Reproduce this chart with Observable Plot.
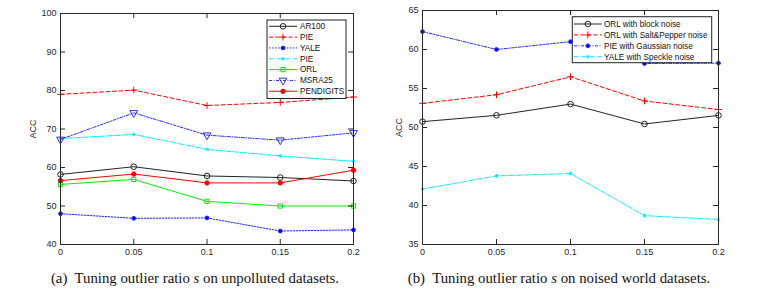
<!DOCTYPE html>
<html><head><meta charset="utf-8">
<script src="https://cdn.jsdelivr.net/npm/d3@7"></script>
<script src="https://cdn.jsdelivr.net/npm/@observablehq/plot@0.6"></script>
<style>
body{margin:0;background:#fff;}
#wrap{position:relative;width:765px;height:300px;overflow:hidden;background:#fff;}
.panel{position:absolute;top:0;}
.cap{position:absolute;top:271px;font-family:"Liberation Serif","Times New Roman",serif;font-size:14.8px;line-height:15px;white-space:nowrap;transform:translateX(-50%);color:#111;}
</style></head>
<body>
<div id="wrap">
  <div class="panel" id="pa" style="left:0px"></div>
  <div class="panel" id="pb" style="left:380px"></div>
  <div class="cap" style="left:195px">(a)&nbsp; Tuning outlier ratio <i>s</i> on unpolluted datasets.</div>
  <div class="cap" style="left:559px">(b)&nbsp; Tuning outlier ratio <i>s</i> on noised world datasets.</div>
</div>
<script>
// ---- data ----
const xs = [0, 0.05, 0.1, 0.15, 0.2];
const xTickLabels = ["0", "0.05", "0.1", "0.15", "0.2"];
const yTicksA = [40, 50, 60, 70, 80, 90, 100];
const yTicksB = [35, 40, 45, 50, 55, 60, 65];

const namesA = ["AR100", "PIE", "YALE", "PIE", "ORL", "MSRA25", "PENDIGITS"];
const ar100     = [58.2, 60.2, 57.8, 57.4, 56.5];
const pieA      = [79.0, 80.1, 76.1, 76.9, 78.3];
const yaleA     = [48.0, 46.8, 46.9, 43.5, 43.8];
const pie2A     = [67.5, 68.6, 64.7, 63.0, 61.6];
const orlA      = [55.6, 56.9, 51.2, 50.0, 50.0];
const msra25    = [67.3, 74.2, 68.4, 67.1, 69.0];
const pendigits = [56.6, 58.3, 56.0, 56.0, 59.3];

const namesB = ["ORL with block noise", "ORL with Salt&Pepper noise", "PIE with Gaussian noise", "YALE with Speckle noise"];
const orlBlock    = [50.75, 51.56, 53.0, 50.45, 51.55];
const orlSP       = [53.1, 54.2, 56.5, 53.4, 52.3];
const pieGauss    = [62.3, 60.0, 61.0, 58.2, 58.25];
const yaleSpeckle = [42.1, 43.8, 44.1, 38.7, 38.2];

// ---- styles ----
const stylesA = [
  {stroke:"#222", dash:null, symbol:"circle", r:2.8, fill:"none"},
  {stroke:"#ff0000", dash:"4,2.5", symbol:"plus", r:2.3, fill:"none"},
  {stroke:"#2020ff", dash:"1.5,1.5", symbol:"circle", r:1.9, fill:"#0000ff"},
  {stroke:"#00e8ff", dash:"4,1.5,1,1.5", symbol:"asterisk", r:1.8, fill:"none"},
  {stroke:"#00ee00", dash:null, symbol:"square", r:2.4, fill:"none"},
  {stroke:"#2a2aff", dash:"3,1.5,1,1.5", symbol:"triangle", r:2.9, fill:"none", rotate:180},
  {stroke:"#ff0000", dash:null, symbol:"circle", r:2.2, fill:"#ff0000"}
];
const stylesB = [
  {stroke:"#222", dash:null, symbol:"circle", r:2.8, fill:"none"},
  {stroke:"#ff0000", dash:"4,2.5", symbol:"plus", r:2.3, fill:"none"},
  {stroke:"#2a2aff", dash:"3,1.5,1,1.5", symbol:"circle", r:1.9, fill:"#0000ff"},
  {stroke:"#00e8ff", dash:"4,1.5,1,1.5", symbol:"asterisk", r:1.8, fill:"none"}
];

const AXC = "#262626";

function makePanel({series, names, styles, yDomain, yTicks, width, height, mL, mR, mT, mB, labelOffset}) {
  const innerH = height - mT - mB;
  const innerW = width - mL - mR;
  const marks = [];
  series.forEach((vals, k) => {
    const s = styles[k];
    const data = xs.map((x, i) => ({x, y: vals[i], name: names[k]}));
    marks.push(Plot.line(data, {x:"x", y:"y", stroke:s.stroke, strokeWidth:1, strokeDasharray:s.dash || undefined}));
    marks.push(Plot.dot(data, {x:"x", y:"y", symbol:s.symbol, r:s.r, stroke:s.stroke, fill:s.fill, strokeWidth:1, rotate:s.rotate || 0}));
  });
  const fmt = d => xTickLabels[xs.findIndex(v => Math.abs(v - d) < 1e-9)];
  return Plot.plot({
    width, height, marginLeft:mL, marginRight:mR, marginTop:mT, marginBottom:mB,
    style:{fontSize:"9px", fontFamily:"'Liberation Sans', Arial, sans-serif", color:AXC, background:"transparent"},
    x:{domain:[0, 0.2]},
    y:{domain:yDomain},
    marks:[
      ...marks,
      Plot.frame({stroke:AXC, strokeWidth:1}),
      Plot.tickX(xs, {x:d=>d, insetTop:innerH-5, stroke:AXC}),
      Plot.tickX(xs, {x:d=>d, insetBottom:innerH-5, stroke:AXC}),
      Plot.tickY(yTicks, {y:d=>d, insetRight:innerW-5, stroke:AXC}),
      Plot.tickY(yTicks, {y:d=>d, insetLeft:innerW-5, stroke:AXC}),
      Plot.axisX({ticks:xs, tickSize:0, tickPadding:4, tickFormat:fmt, label:null}),
      Plot.axisY({ticks:yTicks, tickSize:0, tickPadding:4, label:"ACC", labelAnchor:"center", labelArrow:"none", labelOffset})
    ]
  });
}

const symMap = {circle:d3.symbolCircle, plus:d3.symbolPlus, asterisk:d3.symbolAsterisk, square:d3.symbolSquare, triangle:d3.symbolTriangle};

function addLegend(svg, names, styles, L) {
  const g = d3.select(svg).append("g").attr("text-anchor", "start");
  g.append("rect").attr("x", L.x).attr("y", L.y).attr("width", L.w).attr("height", L.h)
    .attr("fill", "#fff").attr("stroke", "#222").attr("stroke-width", 1);
  names.forEach((n, k) => {
    const s = styles[k];
    const cy = L.row0 + k * L.dy;
    g.append("line").attr("x1", L.lx1).attr("x2", L.lx2).attr("y1", cy).attr("y2", cy)
      .attr("stroke", s.stroke).attr("stroke-width", 1).attr("stroke-dasharray", s.dash || null);
    g.append("path").attr("d", d3.symbol(symMap[s.symbol], Math.PI * s.r * s.r)())
      .attr("transform", `translate(${(L.lx1 + L.lx2) / 2},${cy}) rotate(${s.rotate || 0})`)
      .attr("fill", s.fill).attr("stroke", s.stroke).attr("stroke-width", 1);
    g.append("text").attr("x", L.tx).attr("y", cy).attr("dy", "0.35em")
      .attr("text-anchor", "start")
      .attr("font-size", "8.2px").attr("font-family", "'Liberation Sans', Arial, sans-serif")
      .attr("fill", "#111").text(n);
  });
}

const svgA = makePanel({
  series:[ar100, pieA, yaleA, pie2A, orlA, msra25, pendigits], names:namesA, styles:stylesA,
  yDomain:[40, 100], yTicks:yTicksA, width:380, height:262, mL:60, mR:27, mT:13, mB:18, labelOffset:31
});
document.getElementById("pa").appendChild(svgA);
addLegend(svgA, namesA, stylesA, {x:267, y:20, w:79, h:78.5, row0:26.3, dy:10.83, lx1:269, lx2:297, tx:300});

const svgB = makePanel({
  series:[orlBlock, orlSP, pieGauss, yaleSpeckle], names:namesB, styles:stylesB,
  yDomain:[35, 65], yTicks:yTicksB, width:385, height:262, mL:42, mR:47, mT:10, mB:18, labelOffset:27
});
document.getElementById("pb").appendChild(svgB);
addLegend(svgB, namesB, stylesB, {x:192.3, y:16.7, w:139.4, h:46, row0:24, dy:10.9, lx1:194, lx2:221.7, tx:224});
</script>
</body></html>
